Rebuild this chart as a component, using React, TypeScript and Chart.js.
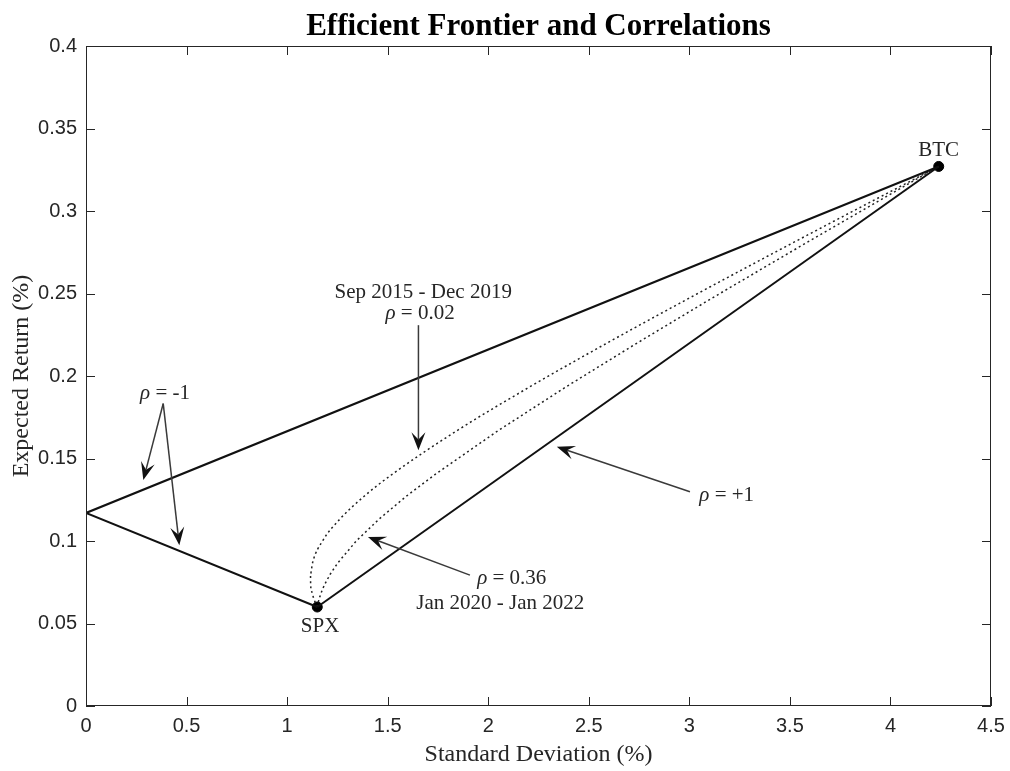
import React, { useEffect, useRef } from "react";
import { Chart, registerables } from "chart.js";

Chart.register(...registerables);

// ---- data ----
const xTicks = [0, 0.5, 1, 1.5, 2, 2.5, 3, 3.5, 4, 4.5];
const yTicks = [0, 0.05, 0.1, 0.15, 0.2, 0.25, 0.3, 0.35, 0.4];

const assetNames = ["SPX", "BTC"];
const assetSD = [1.15, 4.24];
const assetRet = [0.06, 0.327];

const rhoMinus1SD = [4.24, 0.0, 1.15];
const rhoMinus1Ret = [0.327, 0.117, 0.06];

const rhoPlus1SD = [1.15, 4.24];
const rhoPlus1Ret = [0.06, 0.327];

const curveRet = [0.06, 0.0627, 0.0653, 0.0693, 0.0734, 0.08, 0.0867, 0.1001, 0.1134, 0.1268, 0.1401, 0.1668, 0.1935, 0.2202, 0.2469, 0.2736, 0.3003, 0.327];
const rho002SD = [1.15, 1.1401, 1.1319, 1.1225, 1.117, 1.1163, 1.1263, 1.1768, 1.2636, 1.3799, 1.5189, 1.8437, 2.2077, 2.5943, 2.9948, 3.4044, 3.82, 4.24];
const rho036SD = [1.15, 1.1545, 1.1602, 1.1714, 1.1855, 1.215, 1.2518, 1.3445, 1.4585, 1.5893, 1.733, 2.0482, 2.388, 2.7434, 3.1089, 3.4814, 3.8589, 4.24];

// annotation texts (data coords for anchor points)
const labelTexts = ["Sep 2015 - Dec 2019", "Jan 2020 - Jan 2022"];
const labelX = [1.677, 2.06];
const labelY = [0.2509, 0.0624];

const rhoLabels = ["-1", "0.02", "+1", "0.36"];
const rhoLabelX = [0.393, 1.661, 3.186, 2.117];
const rhoLabelY = [0.1896, 0.238, 0.1278, 0.0773];

const arrowTailX = [0.384, 0.384, 1.653, 3.003, 1.909];
const arrowTailY = [0.1833, 0.1833, 0.2308, 0.1298, 0.0793];
const arrowTipX = [0.285, 0.464, 1.653, 2.341, 1.402];
const arrowTipY = [0.1369, 0.0975, 0.155, 0.1571, 0.1024];

const assetLabelX = [1.164, 4.24];
const assetLabelY = [0.048, 0.3368];

const titleText = "Efficient Frontier and Correlations";
const xTitle = "Standard Deviation (%)";
const yTitle = "Expected Return (%)";

const SERIF = "'Liberation Serif', 'Times New Roman', serif";
const SANS = "'Liberation Sans', Arial, sans-serif";
const AX = "#262626";

function pts(xs: number[], ys: number[]) {
  return xs.map((v, i) => ({ x: v, y: ys[i] }));
}

function drawArrow(ctx: CanvasRenderingContext2D, x1: number, y1: number, x2: number, y2: number) {
  const dx = x2 - x1, dy = y2 - y1;
  const len = Math.hypot(dx, dy);
  const ux = dx / len, uy = dy / len;
  const nx = -uy, ny = ux;
  const L = 18, W = 7;
  ctx.strokeStyle = "#3a3a3a";
  ctx.lineWidth = 1.5;
  ctx.beginPath();
  ctx.moveTo(x1, y1);
  ctx.lineTo(x2 - ux * L * 0.6, y2 - uy * L * 0.6);
  ctx.stroke();
  ctx.fillStyle = "#111";
  ctx.beginPath();
  ctx.moveTo(x2, y2);
  ctx.lineTo(x2 - ux * L + nx * W, y2 - uy * L + ny * W);
  ctx.lineTo(x2 - ux * L * 0.6, y2 - uy * L * 0.6);
  ctx.lineTo(x2 - ux * L - nx * W, y2 - uy * L - ny * W);
  ctx.closePath();
  ctx.fill();
}

function drawRho(ctx: CanvasRenderingContext2D, cx: number, cy: number, val: string) {
  const italic = `italic 21px ${SERIF}`;
  const normal = `21px ${SERIF}`;
  ctx.font = italic;
  const w1 = ctx.measureText("\u03C1").width;
  ctx.font = normal;
  const rest = " = " + val;
  const w2 = ctx.measureText(rest).width;
  const start = cx - (w1 + w2) / 2;
  ctx.textAlign = "left";
  ctx.textBaseline = "middle";
  ctx.fillStyle = AX;
  ctx.font = italic;
  ctx.fillText("\u03C1", start, cy);
  ctx.font = normal;
  ctx.fillText(rest, start + w1, cy);
}

const overlay = {
  id: "overlay",
  afterDraw(chart: any) {
    const { ctx, chartArea: a } = chart;
    const xs = chart.scales.x;
    const ys = chart.scales.y;
    ctx.save();
    // box
    ctx.strokeStyle = AX;
    ctx.lineWidth = 1;
    ctx.strokeRect(Math.round(a.left) + 0.5, Math.round(a.top) + 0.5, Math.round(a.right - a.left) - 1, Math.round(a.bottom - a.top) - 1);
    // inward ticks
    const T = 9;
    ctx.beginPath();
    xTicks.forEach((v) => {
      const px = Math.round(xs.getPixelForValue(v)) + 0.5;
      ctx.moveTo(px, a.bottom);
      ctx.lineTo(px, a.bottom - T);
      ctx.moveTo(px, a.top);
      ctx.lineTo(px, a.top + T);
    });
    yTicks.forEach((v) => {
      const py = Math.round(ys.getPixelForValue(v)) + 0.5;
      ctx.moveTo(a.left, py);
      ctx.lineTo(a.left + T, py);
      ctx.moveTo(a.right, py);
      ctx.lineTo(a.right - T, py);
    });
    ctx.stroke();

    // arrows
    arrowTailX.forEach((_, i) => {
      drawArrow(
        ctx,
        xs.getPixelForValue(arrowTailX[i]),
        ys.getPixelForValue(arrowTailY[i]),
        xs.getPixelForValue(arrowTipX[i]),
        ys.getPixelForValue(arrowTipY[i])
      );
    });

    // rho labels
    rhoLabels.forEach((r, i) => {
      drawRho(ctx, xs.getPixelForValue(rhoLabelX[i]), ys.getPixelForValue(rhoLabelY[i]), r);
    });

    // period labels and asset labels
    ctx.font = `21px ${SERIF}`;
    ctx.fillStyle = AX;
    ctx.textAlign = "center";
    ctx.textBaseline = "middle";
    labelTexts.forEach((t, i) => {
      ctx.fillText(t, xs.getPixelForValue(labelX[i]), ys.getPixelForValue(labelY[i]));
    });
    assetNames.forEach((t, i) => {
      ctx.fillText(t, xs.getPixelForValue(assetLabelX[i]), ys.getPixelForValue(assetLabelY[i]));
    });

    // titles
    const cx = (a.left + a.right) / 2;
    ctx.fillStyle = "#000";
    ctx.font = `bold 31px ${SERIF}`;
    ctx.fillText(titleText, cx, 27);
    ctx.fillStyle = AX;
    ctx.font = `24px ${SERIF}`;
    ctx.fillText(xTitle, cx, 755);
    ctx.save();
    ctx.translate(22, (a.top + a.bottom) / 2);
    ctx.rotate(-Math.PI / 2);
    ctx.fillText(yTitle, 0, 0);
    ctx.restore();
    ctx.restore();
  },
};

export default function App() {
  const ref = useRef<HTMLCanvasElement | null>(null);
  useEffect(() => {
    if (!ref.current) return;
    const chart = new Chart(ref.current, {
      type: "scatter",
      data: {
        datasets: [
          {
            label: "rho=-1",
            data: pts(rhoMinus1SD, rhoMinus1Ret),
            showLine: true,
            borderColor: "#111",
            borderWidth: 2,
            pointRadius: 0,
            tension: 0,
          },
          {
            label: "rho=+1",
            data: pts(rhoPlus1SD, rhoPlus1Ret),
            showLine: true,
            borderColor: "#111",
            borderWidth: 2,
            pointRadius: 0,
          },
          {
            label: "rho=0.02",
            data: pts(rho002SD, curveRet),
            showLine: true,
            borderColor: "#222",
            borderWidth: 1.5,
            borderDash: [2, 3],
            pointRadius: 0,
            cubicInterpolationMode: "monotone",
          },
          {
            label: "rho=0.36",
            data: pts(rho036SD, curveRet),
            showLine: true,
            borderColor: "#222",
            borderWidth: 1.5,
            borderDash: [2, 3],
            pointRadius: 0,
          },
          {
            label: "assets",
            data: pts(assetSD, assetRet),
            showLine: false,
            pointRadius: 5,
            pointBackgroundColor: "#000",
            pointBorderColor: "#000",
          },
        ],
      },
      options: {
        animation: false,
        responsive: false,
        maintainAspectRatio: false,
        layout: { padding: { left: 0, right: 19, top: 46, bottom: 0 } },
        plugins: {
          legend: { display: false },
          tooltip: { enabled: false },
          title: { display: false },
        },
        scales: {
          x: {
            type: "linear",
            min: 0,
            max: 4.5,
            grid: { display: false, drawTicks: false },
            border: { display: false },
            afterFit: (s: any) => {
              s.height = 65;
              s.paddingLeft = 0;
              s.paddingRight = 0;
            },
            afterBuildTicks: (s: any) => {
              s.ticks = xTicks.map((v) => ({ value: v }));
            },
            ticks: {
              padding: 8,
              color: AX,
              font: { family: SANS, size: 20 },
              maxRotation: 0,
              autoSkip: false,
              callback: (v: any) => String(Number(Number(v).toFixed(2))),
            },
          },
          y: {
            type: "linear",
            min: 0,
            max: 0.4,
            grid: { display: false, drawTicks: false },
            border: { display: false },
            afterFit: (s: any) => {
              s.width = 86;
              s.paddingTop = 0;
              s.paddingBottom = 0;
            },
            afterBuildTicks: (s: any) => {
              s.ticks = yTicks.map((v) => ({ value: v }));
            },
            ticks: {
              padding: 9,
              color: AX,
              font: { family: SANS, size: 20 },
              autoSkip: false,
              callback: (v: any) => String(Number(Number(v).toFixed(2))),
            },
          },
        },
      },
      plugins: [overlay],
    } as any);
    return () => chart.destroy();
  }, []);
  return (
    <div style={{ position: "fixed", left: 0, top: 0, width: 1010, height: 771, background: "#fff" }}>
      <canvas ref={ref} width={1010} height={771} style={{ width: 1010, height: 771, display: "block" }} />
    </div>
  );
}
